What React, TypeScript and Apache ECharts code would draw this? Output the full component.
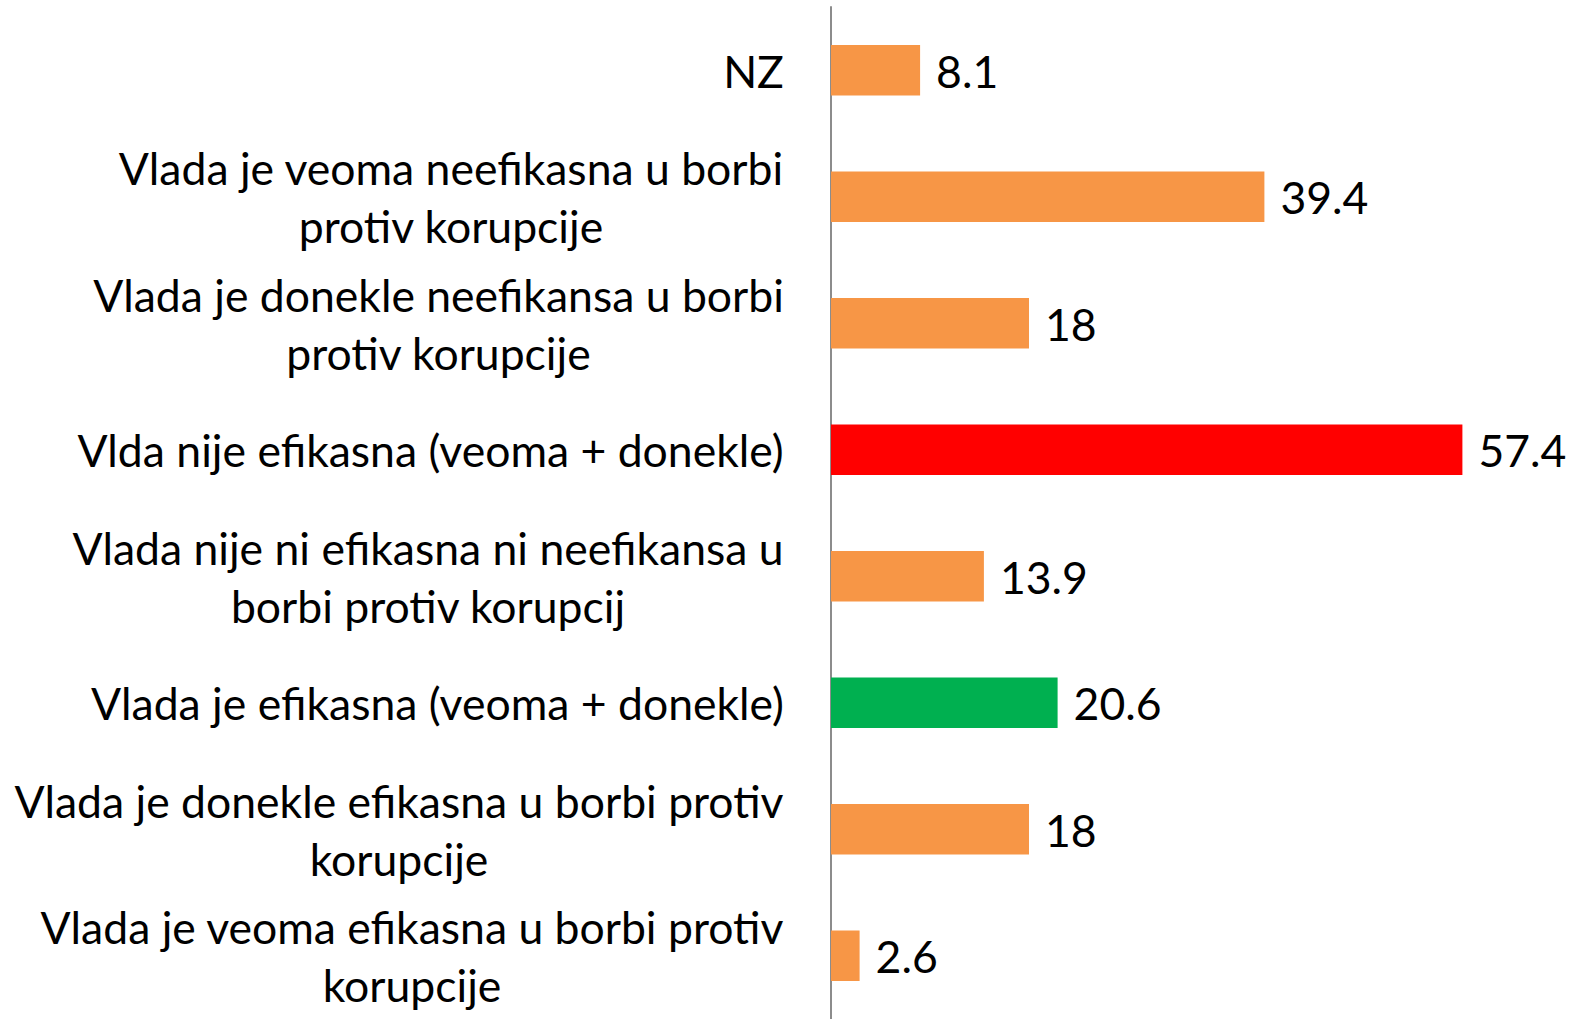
import React, { useEffect, useRef } from "react";
import * as echarts from "echarts";

const categories: string[] = [
  "NZ",
  "Vlada je veoma neefikasna u borbi\nprotiv korupcije",
  "Vlada je donekle neefikansa u borbi\nprotiv korupcije",
  "Vlda nije efikasna (veoma + donekle)",
  "Vlada nije ni efikasna ni neefikansa u\nborbi protiv korupcij",
  "Vlada je efikasna (veoma + donekle)",
  "Vlada je donekle efikasna u borbi protiv\nkorupcije",
  "Vlada je veoma efikasna u borbi protiv\nkorupcije",
];
const values: number[] = [8.1, 39.4, 18, 57.4, 13.9, 20.6, 18, 2.6];
const barColors: string[] = [
  "#F79646",
  "#F79646",
  "#F79646",
  "#FF0000",
  "#F79646",
  "#00B050",
  "#F79646",
  "#F79646",
];

const FONT_FAMILY = "Lato";
const FONT_SIZE = 44.5;

function measure(text: string): number {
  const c = document.createElement("canvas").getContext("2d");
  if (!c) return text.length * FONT_SIZE * 0.5;
  c.font = `${FONT_SIZE}px ${FONT_FAMILY}`;
  return c.measureText(text).width;
}

export default function App() {
  const ref = useRef<HTMLDivElement>(null);
  useEffect(() => {
    if (!ref.current) return;
    const chart = echarts.init(ref.current, null, { renderer: "svg" });
    const rich: Record<string, any> = {};
    categories.forEach((c, i) => {
      const w = Math.max(...c.split("\n").map(measure));
      rich["l" + i] = {
        width: Math.ceil(w) + 2,
        align: "center",
        fontSize: FONT_SIZE,
        fontFamily: FONT_FAMILY,
        color: "#000",
        lineHeight: 58,
      };
    });
    chart.setOption({
      animation: false,
      grid: { left: 831, right: 87, top: 7, height: 1018, containLabel: false },
      xAxis: {
        type: "value",
        min: 0,
        max: 60,
        show: false,
      },
      yAxis: {
        type: "category",
        inverse: true,
        data: categories,
        axisLine: { show: true, lineStyle: { color: "#8C8C8C", width: 2 } },
        axisTick: { show: false },
        axisLabel: {
          margin: 46,
          align: "right",
          formatter: (v: string) => {
            const i = categories.indexOf(v);
            return v
              .split("\n")
              .map((line) => `{l${i}|${line}}`)
              .join("\n");
          },
          rich,
        },
      },
      series: [
        {
          type: "bar",
          barWidth: "40%",
          data: values.map((v, i) => ({ value: v, itemStyle: { color: barColors[i] } })),
          label: {
            show: true,
            position: "right",
            distance: 16,
            color: "#000",
            fontSize: FONT_SIZE,
            fontFamily: FONT_FAMILY,
          },
        },
      ],
    });
    return () => chart.dispose();
  }, []);
  return (
    <div
      ref={ref}
      style={{ position: "fixed", left: 0, top: 0, width: 1578, height: 1019, background: "#fff" }}
    />
  );
}
